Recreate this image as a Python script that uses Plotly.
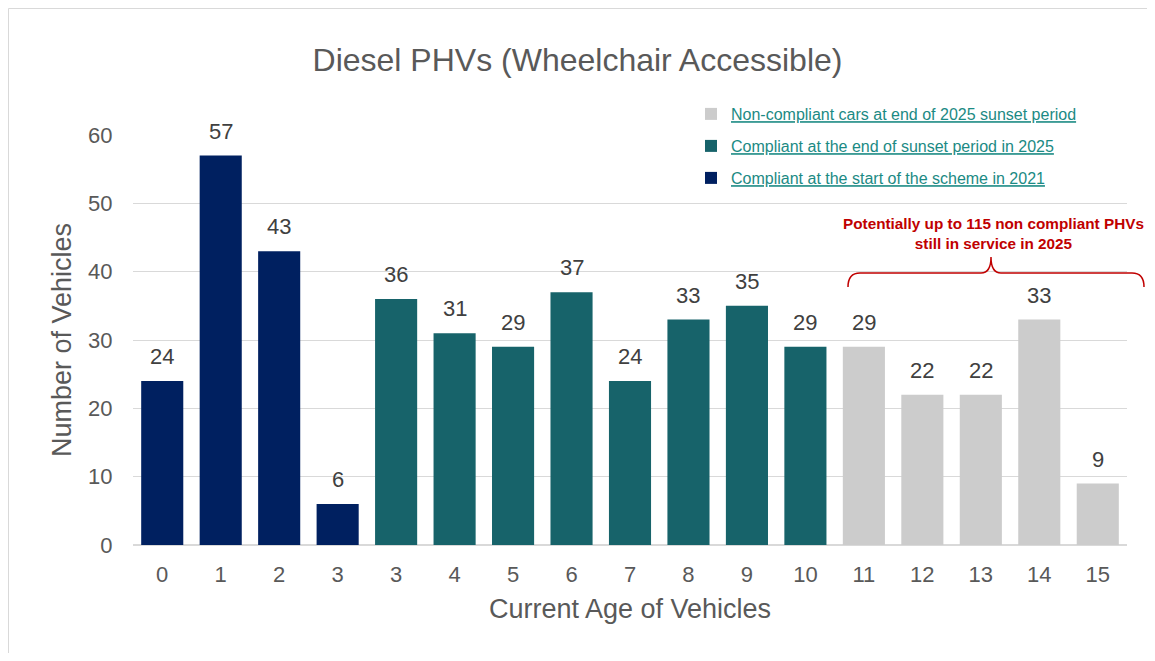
import plotly.graph_objects as go

tick_labels = ["0", "1", "2", "3", "3", "4", "5", "6", "7", "8", "9", "10", "11", "12", "13", "14", "15"]
values = [24, 57, 43, 6, 36, 31, 29, 37, 24, 33, 35, 29, 29, 22, 22, 33, 9]
groups = ["start", "start", "start", "start",
          "end", "end", "end", "end", "end", "end", "end", "end",
          "non", "non", "non", "non", "non"]

series = [
    ("non", "Non-compliant cars at end of 2025 sunset period", "#cccccc", "legend"),
    ("end", "Compliant at the end of sunset period in 2025", "#17636a", "legend2"),
    ("start", "Compliant at the start of the scheme in 2021", "#002060", "legend3"),
]

OFF = 8  # page body margin
W, H = 1155 - 2 * OFF, 661 - 2 * OFF
L, T = 133 - OFF, 135 - OFF
R = W - (1127 - OFF)
B = H - (545 - OFF)
pw, ph = W - L - R, H - T - B

def px(x):  # screen x -> paper
    return (x - OFF - L) / pw

def py(y):  # screen y -> paper
    return (H - B - (y - OFF)) / ph

FONT = "Liberation Sans, Arial"
fig = go.Figure()
positions = list(range(len(values)))
for key, name, color, leg in series:
    xs = [p for p, g in zip(positions, groups) if g == key]
    ys = [v for v, g in zip(values, groups) if g == key]
    fig.add_trace(go.Bar(x=xs, y=ys, name=name, marker_color=color,
                         marker_line_width=0, width=0.72, legend=leg))

for p, v in zip(positions, values):
    fig.add_annotation(x=p, y=v, text=str(v), showarrow=False, yanchor="bottom",
                       yshift=10, font=dict(size=22, color="#404040", family=FONT))

# brace annotation
bx0, bx1, bmid = 848, 1144, 991
by_end, by_line, by_top = 287, 273, 257
path = (f"M {px(bx0)},{py(by_end)} Q {px(bx0)},{py(by_line)} {px(bx0+12)},{py(by_line)} "
        f"L {px(bmid-10)},{py(by_line)} Q {px(bmid)},{py(by_line)} {px(bmid)},{py(by_top)} "
        f"Q {px(bmid)},{py(by_line)} {px(bmid+10)},{py(by_line)} "
        f"L {px(bx1-12)},{py(by_line)} Q {px(bx1)},{py(by_line)} {px(bx1)},{py(by_end)}")
fig.add_shape(type="path", path=path, xref="paper", yref="paper",
              line=dict(color="#c00000", width=1.5))
fig.add_annotation(x=px(993), y=py(233), xref="paper", yref="paper",
                   xanchor="center", yanchor="middle",
                   text="<b>Potentially up to 115 non compliant PHVs<br>still in service in 2025</b>",
                   showarrow=False, align="center",
                   font=dict(size=15.3, color="#c00000", family=FONT))

# outer border (left and top edges)
fig.add_shape(type="line", xref="paper", yref="paper",
              x0=px(OFF + 0.5), x1=px(OFF + 0.5), y0=py(900), y1=py(OFF + 0.5),
              line=dict(color="#d9d9d9", width=1), layer="below")
fig.add_shape(type="line", xref="paper", yref="paper",
              x0=px(OFF + 0.5), x1=px(1400), y0=py(OFF + 0.5), y1=py(OFF + 0.5),
              line=dict(color="#d9d9d9", width=1), layer="below")

def leg(center_y):
    return dict(x=px(691), y=py(center_y - 18), xanchor="left", yanchor="top",
                bgcolor="rgba(0,0,0,0)", itemsizing="constant", itemwidth=30,
                font=dict(size=16, color="#1b8a84", family=FONT, lineposition="under"))

fig.update_layout(
    width=W, height=H,
    margin=dict(l=L, r=R, t=T, b=B),
    paper_bgcolor="white", plot_bgcolor="white",
    barmode="overlay",
    font=dict(family=FONT, color="#595959"),
    title=dict(text="Diesel PHVs (Wheelchair Accessible)", x=0.5, xref="container",
               y=1 - (60 - OFF) / H, yanchor="middle",
               font=dict(size=32, color="#595959")),
    showlegend=True,
    legend=leg(115), legend2=leg(147), legend3=leg(179),
    xaxis=dict(tickmode="array", tickvals=positions, ticktext=tick_labels,
               range=[-0.5, len(values) - 0.5], showgrid=False, showline=False,
               zeroline=False, ticks="outside", ticklen=10, tickcolor="rgba(0,0,0,0)",
               tickfont=dict(size=22, color="#595959"),
               title=dict(text="Current Age of Vehicles", standoff=12,
                          font=dict(size=27, color="#595959"))),
    yaxis=dict(range=[0, 60], dtick=10, showgrid=True, gridcolor="#d9d9d9", gridwidth=1,
               zeroline=True, zerolinecolor="#d9d9d9", zerolinewidth=1.5,
               ticks="outside", ticklen=15, tickcolor="rgba(0,0,0,0)",
               tickfont=dict(size=22, color="#595959"),
               title=dict(text="Number of Vehicles", standoff=8,
                          font=dict(size=27, color="#595959"))),
)
fig.write_html("out.html")
